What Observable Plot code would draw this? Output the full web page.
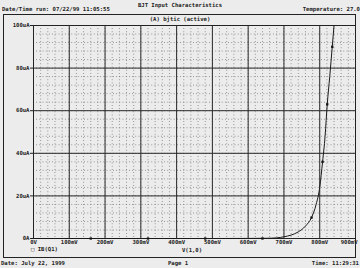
<!DOCTYPE html>
<html><head><meta charset="utf-8">
<script src="https://cdn.jsdelivr.net/npm/d3@7"></script>
<script src="https://cdn.jsdelivr.net/npm/@observablehq/plot@0.6"></script>
<style>
html,body{margin:0;padding:0;background:#ececec;}
#chart{width:360px;height:268px;overflow:hidden;}
svg{display:block;}
</style></head><body><div id="chart"></div>
<script>
// Data (V(1,0) in mV, IB(Q1) in uA)
const voltages = [0,100,200,300,400,500,600,650,680,700,720,740,760,777,790,800,808,815,821,828,835,840];
const currents = [0,0,0,0,0,0,0.03,0.1,0.3,0.8,1.6,3.1,5.8,9.8,16,24,36,48,63,76,90,100];
const markerV = [160,320,480,640,777,808,821,835];
const markerI = [0,0,0,0,9.8,36,63,90];
const xTicks = [0,100,200,300,400,500,600,700,800,900];
const xTickLabels = ["0V","100mV","200mV","300mV","400mV","500mV","600mV","700mV","800mV","900mV"];
const yTicks = [0,20,40,60,80,100];
const yTickLabels = ["0A","20uA","40uA","60uA","80uA","100uA"];
const xMinor = d3.range(0, 901, 20);
const yMinor = d3.range(0, 101, 4);
const titleText = "BJT Input Characteristics";
const runText = "Date/Time run: 07/22/99 11:05:55";
const tempText = "Temperature: 27.0";
const headerText = "(A) bjtic (active)";
const legendText = "\u25A1 IB(Q1)";
const xLabelText = "V(1,0)";
const footerLeft = "Date: July 22, 1999";
const footerMid = "Page 1";
const footerRight = "Time: 11:29:31";

const curve = voltages.map((v, i) => ({v, i: currents[i]}));
const markers = markerV.map((v, k) => ({v, i: markerI[k]}));
const FONT = "'DejaVu Sans Mono','Liberation Mono',monospace";
const xl = d => xTickLabels[xTicks.indexOf(d)];
const yl = d => yTickLabels[yTicks.indexOf(d)];

const plot = Plot.plot({
  width: 360, height: 268,
  marginTop: 25, marginLeft: 33, marginRight: 5, marginBottom: 30,
  style: {background: "transparent", fontFamily: FONT, fontSize: "5.6px", fontWeight: "bold", color: "#222"},
  x: {domain: [0, 900]},
  y: {domain: [0, 100]},
  marks: [
    Plot.ruleX(xMinor, {stroke: "#666", strokeWidth: 0.8, strokeDasharray: "0.8,2.4"}),
    Plot.ruleY(yMinor, {stroke: "#666", strokeWidth: 0.8, strokeDasharray: "0.8,2.4"}),
    Plot.ruleX(xTicks, {stroke: "#2a2a2a", strokeWidth: 1}),
    Plot.ruleY(yTicks, {stroke: "#2a2a2a", strokeWidth: 1}),
    Plot.frame({stroke: "#222", strokeWidth: 1}),
    Plot.axisY(yTicks, {tickFormat: yl, tickSize: 3, tickPadding: 1, label: null, stroke: "#222"}),
    Plot.axisX(xTicks.slice(0, 9), {tickFormat: xl, tickSize: 0, tickPadding: 2, label: null}),
    Plot.axisX(xTicks.slice(9), {tickFormat: xl, tickSize: 0, tickPadding: 2, label: null, textAnchor: "end", dx: 2}),
    Plot.line(curve, {x: "v", y: "i", stroke: "#1a1a1a", strokeWidth: 1, curve: "monotone-x"}),
    Plot.dot(markers, {x: "v", y: "i", symbol: "square", r: 1.3, fill: "#111", stroke: "none"})
  ]
});
document.getElementById("chart").appendChild(plot);

const svg = d3.select(plot);
// outer printout frame and header box
svg.append("rect").attr("x", 3.5).attr("y", 14.5).attr("width", 352).attr("height", 243)
  .attr("fill", "none").attr("stroke", "#222").attr("stroke-width", 1);
const addText = (t, x, y, anchor) => svg.append("text").text(t)
  .attr("x", x).attr("y", y).attr("text-anchor", anchor)
  .attr("dominant-baseline", "middle")
  .attr("font-family", FONT).attr("font-size", "5.6px").attr("font-weight", "bold").attr("fill", "#222");
addText(titleText, 180, 5, "middle");
addText(runText, 2, 9.5, "start");
addText(tempText, 360, 9.5, "end");
addText(headerText, 180, 19.5, "middle");
addText(legendText, 31, 249.5, "start");
addText(xLabelText, 192, 250, "middle");
addText(footerLeft, 1, 263, "start");
addText(footerMid, 178, 263, "middle");
addText(footerRight, 359, 263, "end");
</script></body></html>
